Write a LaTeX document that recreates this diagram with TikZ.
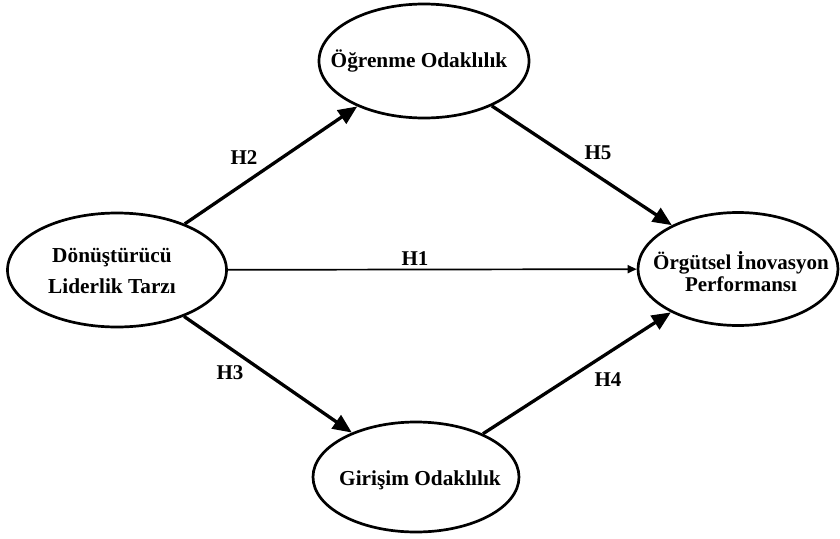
\documentclass[tikz,border=0pt]{standalone}
\usepackage{fontspec}
\setmainfont{Liberation Serif}
\usetikzlibrary{shapes.geometric,arrows.meta}
\begin{document}
\begin{tikzpicture}[x=1pt,y=-1pt,
  ell/.style={draw=black,line width=2.7pt,ellipse,inner sep=0pt,fill=none},
  txt/.style={font=\bfseries\fontsize{21.3}{31}\selectfont,align=center,inner sep=0pt},
  txtr/.style={font=\bfseries\fontsize{21}{22}\selectfont,align=center,inner sep=0pt},
  hlab/.style={font=\bfseries\fontsize{21}{24}\selectfont,inner sep=0pt},
  bigarr/.style={line width=3.3pt,-{Triangle[length=19pt,width=16pt]}},
  thinarr/.style={line width=1.7pt,-{Triangle[length=9pt,width=8pt]}}]
\useasboundingbox (0,0) rectangle (840,538);
\node[ell,minimum width=219pt,minimum height=114pt] (l) at (117,270) {};
\node[ell,minimum width=210pt,minimum height=114pt] (t) at (424,61) {};
\node[ell,minimum width=206pt,minimum height=110pt] (b) at (416,477) {};
\node[ell,minimum width=200pt,minimum height=113pt] (r) at (738,269) {};
\node[txt] (lt) at (112,271) {Dönüştürücü\\Liderlik Tarzı};
\node[txt] (tt) at (419,61) {Öğrenme Odaklılık};
\node[txt] (bt) at (420,480) {Girişim Odaklılık};
\node[txtr] (rt) at (741,272) {Örgütsel İnovasyon\\Performansı};
\draw[bigarr] (l) -- (t);
\draw[bigarr] (l) -- (b);
\draw[bigarr] (t) -- (r);
\draw[bigarr] (b) -- (r);
\draw[thinarr] (l) -- (r);
\node[hlab] (h1) at (415,259) {H1};
\node[hlab] (h2) at (244,158) {H2};
\node[hlab] (h3) at (230,373) {H3};
\node[hlab] (h4) at (608,380) {H4};
\node[hlab] (h5) at (598,153) {H5};
\end{tikzpicture}
\end{document}
